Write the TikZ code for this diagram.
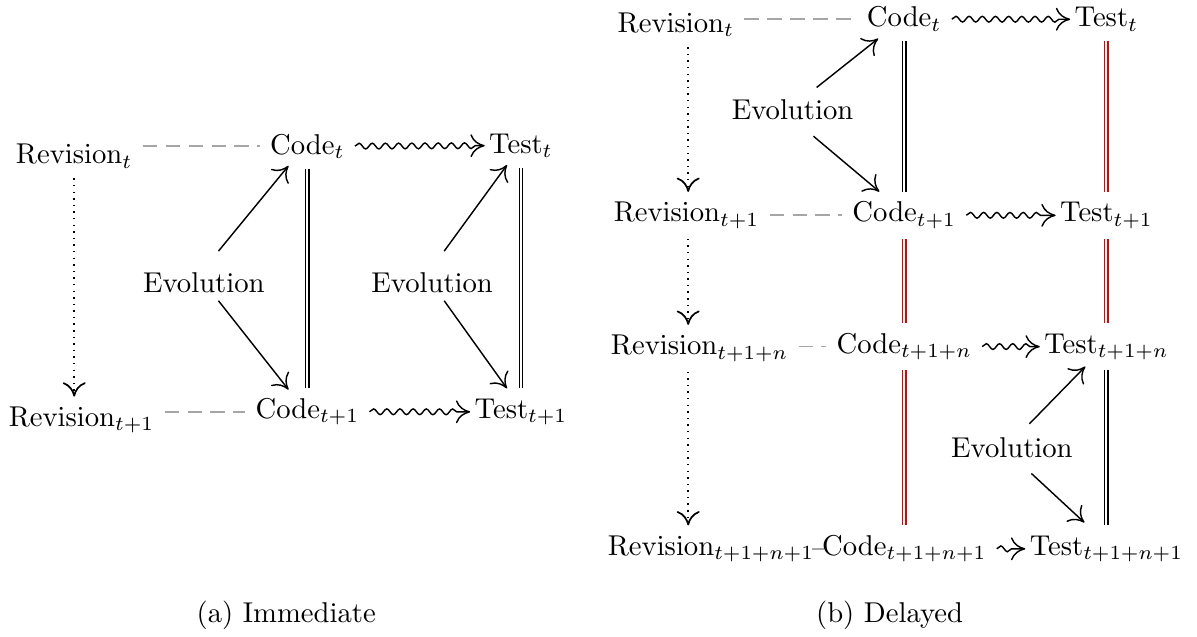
\documentclass[tikz,border=0pt]{standalone}
\usetikzlibrary{arrows.meta,decorations.pathmorphing}
\begin{document}
\begin{tikzpicture}[>={Computer Modern Rightarrow[length=5pt,width=8pt]},line width=0.5pt]
    \tikzstyle{term}=[anchor=base]
    \tikzstyle{evolve}=[->]
    \tikzstyle{equalto}=[line width=0.45pt,double,double distance=0.7pt]
    \tikzstyle{stale}=[equalto,draw=red!90!black]
    \tikzstyle{squig}=[->,decorate,decoration={snake,amplitude=1pt,segment length=4.6pt,post length=3pt}]
    \tikzstyle{dashlink}=[gray!70,line width=0.6pt,dash pattern=on 5pt off 3pt]
    \tikzstyle{revflow}=[->,line width=0.6pt,dash pattern=on 0.5pt off 1.8pt]

    \useasboundingbox (0,0) rectangle (14.68,-7.81);

    % (a) immediate
    \node[term] (revT) at (0.91,-2.01) {$\mathrm{Revision}_t$};
    \node[term] (codeT) at (3.77,-1.89) {$\mathrm{Code}_t$};
    \node[term] (testT) at (6.39,-1.88) {$\mathrm{Test}_t$};
    \node[term] (revT1) at (1.00,-5.23) {$\mathrm{Revision}_{t+1}$};
    \node[term] (codeT1) at (3.77,-5.13) {$\mathrm{Code}_{t+1}$};
    \node[term] (testT1) at (6.39,-5.13) {$\mathrm{Test}_{t+1}$};
    \node[term] (evoA) at (2.50,-3.59) {Evolution};
    \node[term] (evoB) at (5.30,-3.59) {Evolution};
    \node[term] (capA) at (3.51,-7.64) {(a) Immediate};

    \draw[dashlink] (revT.east |- codeT) -- (codeT);
    \draw[dashlink] (revT1.east |- codeT1) -- (codeT1);
    \draw[squig] (codeT) -- ([xshift=2pt]testT.west);
    \draw[squig] (codeT1) -- ([xshift=2pt]testT1.west);
    \draw[revflow] (revT.south) -- (revT.south |- revT1.north);
    \draw[equalto] (codeT) -- (codeT1);
    \draw[equalto] (testT) -- (testT1);
    \draw[evolve] ([shift={(5.1pt,4pt)}]evoA.north) -- ([shift={(-6.6pt,1pt)}]codeT.south);
    \draw[evolve] ([shift={(5.1pt,0.9pt)}]evoA.south) -- ([shift={(-6.6pt,-0.5pt)}]codeT1.north);
    \draw[evolve] ([shift={(4.2pt,4pt)}]evoB.north) -- ([shift={(-4.9pt,1pt)}]testT.south);
    \draw[evolve] ([shift={(4.2pt,0.9pt)}]evoB.south) -- ([shift={(-4.9pt,0pt)}]testT1.north);

    % (b) delayed
    \foreach \n/\idx/\rx/\ry/\y in {0/t/8.29/0.40/0.33, 1/t+1/8.42/2.72/2.72, n/t+1+n/8.58/4.35/4.33, m/t+1+n+1/8.72/6.81/6.81} {
        \node[term] (rev-\n) at (\rx,-\ry) {$\mathrm{Revision}_{\idx}$};
        \node[term] (code-\n) at (11.09,-\y) {$\mathrm{Code}_{\idx}$};
        \node[term] (test-\n) at (13.57,-\y) {$\mathrm{Test}_{\idx}$};
        \draw[dashlink] (rev-\n.east |- code-\n) -- (code-\n);
        \draw[squig] (code-\n) -- ([xshift=2pt]test-\n.west);
    }
    \node[term] (evoC) at (9.72,-1.46) {Evolution};
    \node[term] (evoD) at (12.41,-5.61) {Evolution};
    \node[term] (capB) at (10.91,-7.63) {(b) Delayed};

    \coordinate (revcol) at (8.44,0);
    \foreach \a/\b in {0/1, 1/n, n/m}
        \draw[revflow] (rev-\a.south -| revcol) -- (rev-\b.north -| revcol);

    \draw[equalto] (code-0) -- (code-1);
    \draw[stale] (code-1) -- (code-n);
    \draw[stale] (code-n) -- (code-m);
    \draw[stale] (test-0) -- (test-1);
    \draw[stale] (test-1) -- (test-n);
    \draw[equalto] (test-n) -- (test-m);

    \draw[evolve] ([shift={(8.4pt,0.5pt)}]evoC.north) -- ([shift={(-9.1pt,1pt)}]code-0.south);
    \draw[evolve] ([shift={(7.3pt,-2.3pt)}]evoC.south) -- ([shift={(-8.7pt,0pt)}]code-1.north);
    \draw[evolve] ([shift={(6.1pt,1.2pt)}]evoD.north) -- ([shift={(-7.4pt,1.2pt)}]test-n.south);
    \draw[evolve] ([shift={(6.8pt,-1.9pt)}]evoD.south) -- ([shift={(-7.7pt,1pt)}]test-m.north);
\end{tikzpicture}
\end{document}
